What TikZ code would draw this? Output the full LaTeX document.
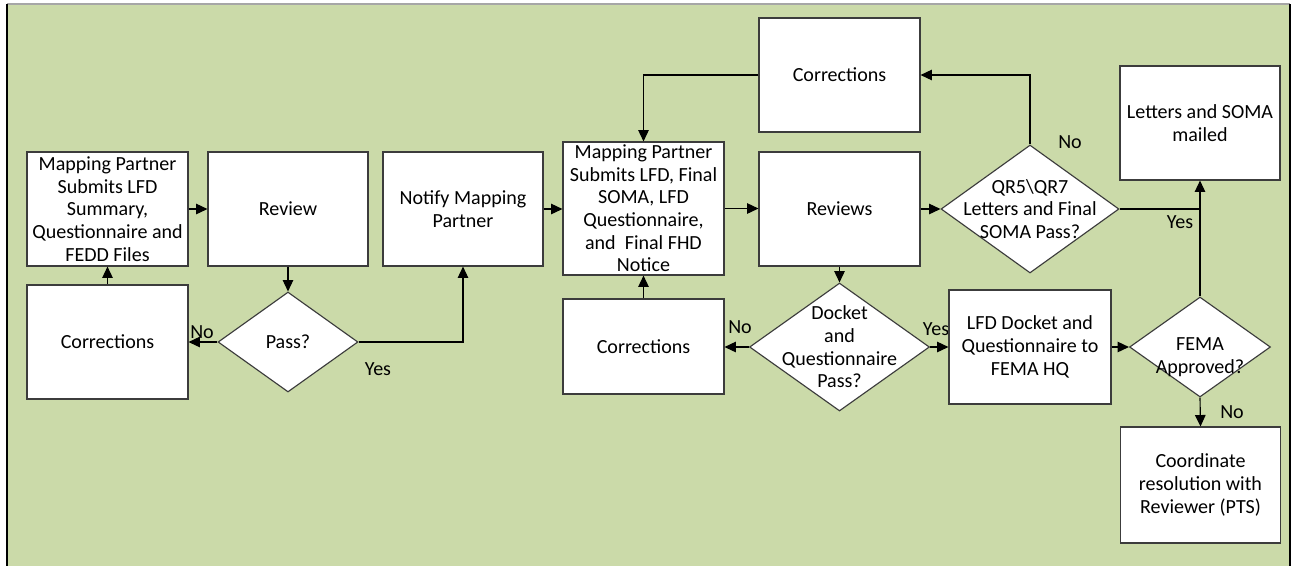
\documentclass[tikz,border=0pt]{standalone}
\usepackage{fontspec}
\setmainfont{Carlito}
\usetikzlibrary{arrows.meta,shapes.geometric}
\definecolor{panel}{RGB}{203,218,169}
\definecolor{boxline}{RGB}{60,60,60}
\begin{document}
\begin{tikzpicture}[x=0.02cm,y=-0.02cm,
  every node/.style={font=\fontsize{11.4}{12.9}\selectfont, text=black},
  procbox/.style={draw=boxline, fill=white, line width=0.65pt, align=center, inner sep=1pt},
  decision/.style={diamond, draw=boxline, fill=white, line width=0.65pt, inner sep=0pt},
  dtext/.style={align=center, inner sep=0pt},
  tag/.style={inner sep=0pt},
  arr/.style={-{Triangle[length=6.5pt,width=6pt]}, line width=0.65pt, draw=black},
  link/.style={line width=0.65pt, draw=black}]

% page and green panel
\useasboundingbox (0,0) rectangle (1295,566);
\fill[panel] (7,4) rectangle (1290,566);
\draw[gray!70, line width=1pt] (7,4) -- (1290,4);
\draw[black, line width=1.2pt] (7,4) -- (7,566);
\draw[black, line width=1pt] (1290,4) -- (1290,566);

% branch labels (drawn first so boxes sit on top)
\node[tag] (noPass)   at (202,332)  {No};
\node[tag] (yesPass)  at (378,369)  {Yes};
\node[tag] (noDock)   at (740,327)  {No};
\node[tag] (yesDock)  at (936,329)  {Yes};
\node[tag] (noQR)     at (1070,142) {No};
\node[tag] (yesQR)    at (1180,222) {Yes};
\node[tag] (noFema)   at (1232,412) {No};

% process boxes
\node[procbox, minimum width=3.22cm, minimum height=2.28cm] (submit1) at (107.5,209)
  {Mapping Partner\\Submits LFD\\Summary,\\Questionnaire and\\FEDD Files};
\node[procbox, minimum width=3.20cm, minimum height=2.28cm] (review) at (288,209) {Review};
\node[procbox, minimum width=3.22cm, minimum height=2.28cm] (corr1) at (107.5,342) {Corrections};
\node[procbox, minimum width=3.20cm, minimum height=2.28cm] (notify) at (463,209) {Notify Mapping\\Partner};
\node[procbox, minimum width=3.22cm, minimum height=2.66cm] (submit2) at (643.5,208.5)
  {Mapping Partner\\Submits LFD, Final\\SOMA, LFD\\Questionnaire,\\and\ \ Final FHD\\Notice};
\node[procbox, minimum width=3.22cm, minimum height=1.90cm] (corr2) at (643.5,346.5) {Corrections};
\node[procbox, minimum width=3.22cm, minimum height=2.28cm] (corrTop) at (839.5,75) {Corrections};
\node[procbox, minimum width=3.22cm, minimum height=2.28cm] (reviews) at (839.5,209) {Reviews};
\node[procbox, minimum width=3.24cm, minimum height=2.28cm] (hq) at (1030,347)
  {LFD Docket and\\Questionnaire to\\FEMA HQ};
\node[procbox, minimum width=3.20cm, minimum height=2.28cm] (mailed) at (1200,123)
  {Letters and SOMA\\mailed};
\node[procbox, minimum width=3.20cm, minimum height=2.32cm] (coord) at (1200.5,485)
  {Coordinate\\resolution with\\Reviewer (PTS)};

% decisions
\node[decision, minimum width=2.80cm, minimum height=2.00cm] (pass) at (288,342) {};
\node[dtext] (passT) at (pass.center) {Pass?};
\node[decision, minimum width=3.56cm, minimum height=2.56cm] (qr) at (1030,209) {};
\node[dtext] (qrT) at (qr.center) {QR5\textbackslash QR7\\Letters and Final\\SOMA Pass?};
\node[decision, minimum width=3.60cm, minimum height=2.56cm] (docket) at (839.5,347) {};
\node[dtext] (docketT) at (docket.center) {Docket\\and\\Questionnaire\\Pass?};
\node[decision, minimum width=2.82cm, minimum height=2.00cm] (fema) at (1200,347) {};
\node[dtext] (femaT) at (1200,357) {FEMA\\Approved?};

% connectors
\draw[arr] (submit1.east) -- (review.west);
\draw[arr] (review.south) -- (pass.north);
\draw[arr] (pass.west) -- (corr1.east);
\draw[arr] (corr1.north) -- (submit1.south);
\draw[arr] (pass.east) -| (notify.south);
\draw[arr] (notify.east) -- (notify.east -| submit2.west);
\draw[arr] (submit2.east) -- (submit2.east -| reviews.west);
\draw[arr] (reviews.east) -- (qr.west);
\draw[arr] (qr.north) |- (corrTop.east);
\draw[arr] (corrTop.west) -| (submit2.north);
\draw[arr] (reviews.south) -- (docket.north);
\draw[arr] (docket.west) -- (docket.west -| corr2.east);
\draw[arr] (corr2.north) -- (submit2.south);
\draw[arr] (docket.east) -- (hq.west);
\draw[arr] (hq.east) -- (fema.west);
\draw[arr] (fema.north) -- (mailed.south);
\coordinate (yesJoin) at (qr.east -| fema.north);
\draw[link] (qr.east) -- (yesJoin);
\draw[arr] (fema.south) -- (coord.north);
\end{tikzpicture}
\end{document}
